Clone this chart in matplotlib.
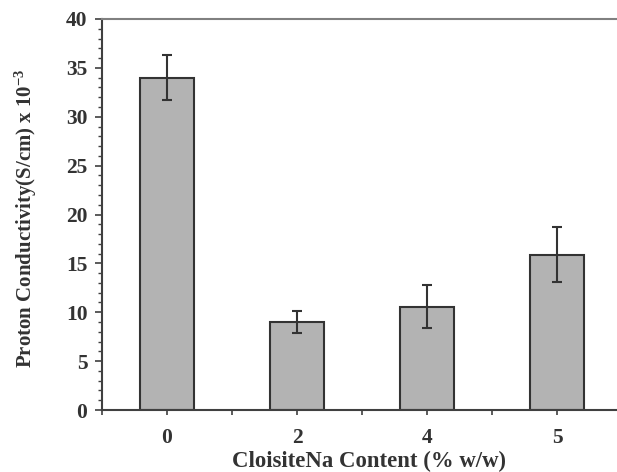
import matplotlib
matplotlib.use("Agg")
import matplotlib.pyplot as plt
from matplotlib.ticker import MultipleLocator, FixedLocator

categories = ["0", "2", "4", "5"]
values = [34.0, 9.0, 10.55, 15.9]
errors = [2.3, 1.15, 2.2, 2.8]

plt.rcParams['font.family'] = ['Liberation Serif', 'DejaVu Serif']
plt.rcParams['font.weight'] = 'bold'
plt.rcParams['mathtext.fontset'] = 'custom'
plt.rcParams['mathtext.rm'] = 'Liberation Serif:bold'
plt.rcParams['mathtext.bf'] = 'Liberation Serif:bold'
plt.rcParams['mathtext.it'] = 'Liberation Serif:bold'

fig = plt.figure(figsize=(6.17, 4.72), dpi=100)
ax = fig.add_axes([102/617, 62/472, 520/617, 391/472])

x = list(range(len(categories)))
ax.bar(x, values, width=0.41, color='#b3b3b3', edgecolor='#333333', linewidth=1.5, zorder=2)
ax.errorbar(x, values, yerr=errors, fmt='none', ecolor='#333333', elinewidth=1.5,
            capsize=3.5, capthick=1.5, zorder=3)

ax.set_xlim(-0.5, 3.5)
ax.set_ylim(0, 40)
ax.set_xticks(x)
ax.set_xticklabels(categories)
ax.xaxis.set_minor_locator(FixedLocator([-0.5, 0.5, 1.5, 2.5, 3.5]))
ax.yaxis.set_major_locator(MultipleLocator(5))
ax.yaxis.set_minor_locator(MultipleLocator(1))

for s in ['left', 'bottom']:
    ax.spines[s].set_color('#404040')
    ax.spines[s].set_linewidth(1.5)
ax.spines['top'].set_color('#808080')
ax.spines['top'].set_linewidth(1.5)
ax.spines['right'].set_visible(False)

ax.tick_params(axis='y', which='major', direction='out', length=5, width=1.2, color='#404040',
               labelsize=15.5, pad=5.5)
ax.tick_params(axis='y', which='minor', direction='out', length=3, width=1.0, color='#404040')
ax.tick_params(axis='x', which='major', direction='out', length=3.6, width=1.2, color='#404040',
               labelsize=15.5, pad=9.4)
ax.tick_params(axis='x', which='minor', direction='out', length=3.6, width=1.2, color='#404040')

for lbl in ax.get_xticklabels() + ax.get_yticklabels():
    lbl.set_fontweight('bold')
    lbl.set_color('#333333')

ax.set_xlabel("CloisiteNa Content (% w/w)", fontsize=16.4, fontweight='bold', color='#333333')
ax.set_ylabel(r"Proton Conductivity(S/cm) x 10$^{-3}$", fontsize=15, fontweight='bold', color='#333333')
ax.xaxis.set_label_coords(0.514, (410 - 461) / 391)
ax.xaxis.label.set_va('center')
ax.yaxis.set_label_coords((26 - 102) / 520, (410 - 218.5) / 391)
ax.yaxis.label.set_va('center')

fig.savefig("out.png", dpi=100)
